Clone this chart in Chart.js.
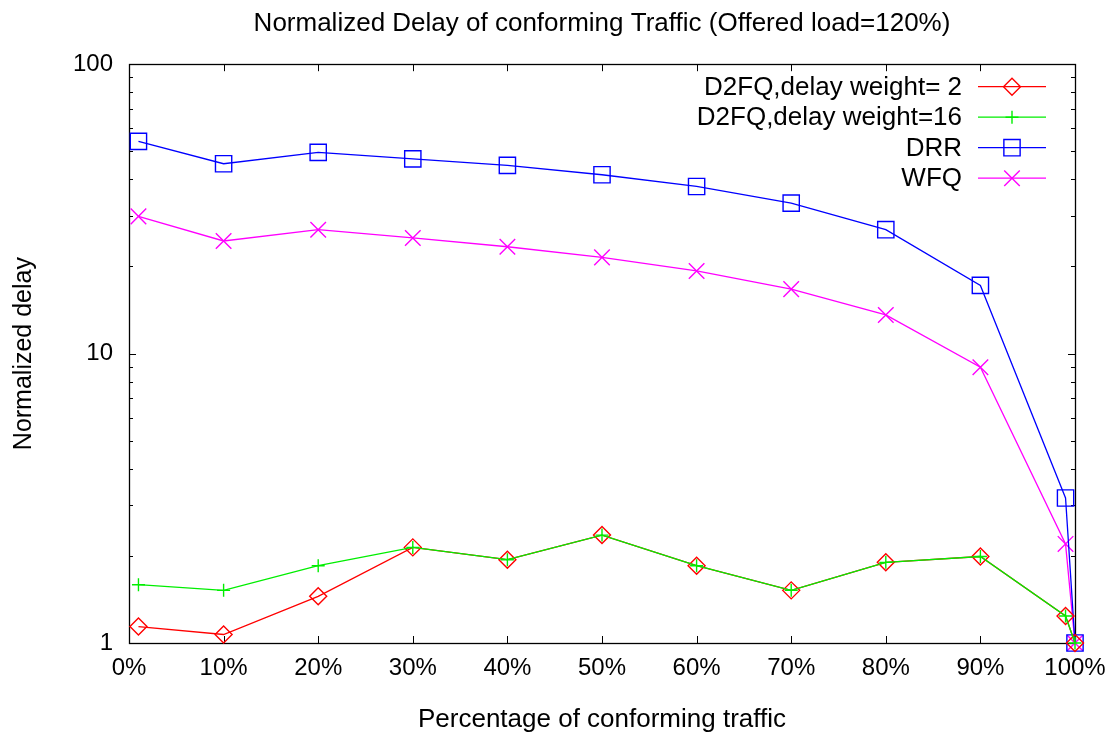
<!DOCTYPE html>
<html>
<head>
<meta charset="utf-8">
<title>Normalized Delay of conforming Traffic</title>
<script src="https://cdn.jsdelivr.net/npm/chart.js@4.4.1/dist/chart.umd.min.js"></script>
<style>
  html, body { margin: 0; padding: 0; background: #ffffff; }
  #wrap { width: 1119px; height: 735px; }
</style>
</head>
<body>
<div id="wrap"><canvas id="chart" width="1119" height="735"></canvas></div>
<script>
// Percentage of conforming traffic (x positions of the measurements)
const conformingPct = [1, 10, 20, 30, 40, 50, 60, 70, 80, 90, 99, 100];

// Normalized delay for each scheduler
const d2fqWeight2  = [1.14, 1.07, 1.45, 2.14, 1.94, 2.36, 1.85, 1.52, 1.90, 1.99, 1.24, 1.0];
const d2fqWeight16 = [1.59, 1.52, 1.85, 2.14, 1.94, 2.36, 1.85, 1.52, 1.90, 1.99, 1.24, 1.0];
const drrDelay     = [54.1, 45.3, 49.6, 47.1, 44.7, 41.5, 37.8, 33.1, 26.8, 17.2, 3.17, 1.0];
const wfqDelay     = [29.8, 24.5, 26.8, 25.1, 23.4, 21.5, 19.3, 16.7, 13.6, 8.97, 2.20, 1.0];

const seriesNames = ['D2FQ,delay weight= 2', 'D2FQ,delay weight=16', 'DRR', 'WFQ'];

// Axis ticks
const xTickValues = [0, 10, 20, 30, 40, 50, 60, 70, 80, 90, 100];
const yMajorTicks = [1, 10, 100];
const yMinorMultipliers = [2, 3, 4, 5, 6, 7, 8, 9];

const FONT = '"Liberation Sans", Arial, Helvetica, sans-serif';
Chart.defaults.font.family = FONT;
Chart.defaults.color = '#000000';

function toPoints(values) {
  return values.map((v, i) => ({ x: conformingPct[i], y: v }));
}

const styles = [
  { color: '#ff0000', pointStyle: 'rectRot',  radius: 8.5 },
  { color: '#00ee00', pointStyle: 'cross',    radius: 6.5 },
  { color: '#0000ff', pointStyle: 'rect',     radius: 11.5 },
  { color: '#ff00ff', pointStyle: 'crossRot', radius: 11 }
];
const seriesValues = [d2fqWeight2, d2fqWeight16, drrDelay, wfqDelay];
// green drawn above red, as the two D2FQ curves coincide for most points
const drawOrder = [1, 0, 2, 3];

const datasets = seriesValues.map((vals, i) => ({
  label: seriesNames[i],
  data: toPoints(vals),
  borderColor: styles[i].color,
  backgroundColor: styles[i].color,
  borderWidth: 1.3,
  pointStyle: styles[i].pointStyle,
  pointRadius: styles[i].radius,
  pointBorderWidth: 1.4,
  pointBorderColor: styles[i].color,
  pointBackgroundColor: 'rgba(0,0,0,0)',
  tension: 0,
  clip: 14,
  order: drawOrder[i]
}));

// Own marker drawing for the legend keys
function drawMarker(ctx, style, x, y, r) {
  ctx.beginPath();
  if (style === 'rect') {
    const s = Math.SQRT1_2 * r;
    ctx.rect(x - s, y - s, 2 * s, 2 * s);
  } else if (style === 'rectRot') {
    ctx.moveTo(x - r, y); ctx.lineTo(x, y - r); ctx.lineTo(x + r, y); ctx.lineTo(x, y + r); ctx.closePath();
  } else if (style === 'cross') {
    ctx.moveTo(x - r, y); ctx.lineTo(x + r, y); ctx.moveTo(x, y - r); ctx.lineTo(x, y + r);
  } else if (style === 'crossRot') {
    const s = Math.SQRT1_2 * r;
    ctx.moveTo(x - s, y - s); ctx.lineTo(x + s, y + s); ctx.moveTo(x - s, y + s); ctx.lineTo(x + s, y - s);
  }
  ctx.stroke();
}

// Frame around the plot plus inward tick marks on all four sides
const framePlugin = {
  id: 'frameTicks',
  beforeDatasetsDraw(chart) {
    const { ctx, chartArea: a, scales } = chart;
    const xs = scales.x, ys = scales.y;
    ctx.save();
    ctx.strokeStyle = '#000000';
    ctx.lineWidth = 1;
    const majorLen = 7, minorLen = 4;
    ctx.beginPath();
    xTickValues.forEach(v => {
      const px = Math.round(xs.getPixelForValue(v)) + 0.5;
      ctx.moveTo(px, a.bottom); ctx.lineTo(px, a.bottom - majorLen);
      ctx.moveTo(px, a.top); ctx.lineTo(px, a.top + majorLen);
    });
    yMajorTicks.forEach(v => {
      const py = Math.round(ys.getPixelForValue(v)) + 0.5;
      ctx.moveTo(a.left, py); ctx.lineTo(a.left + majorLen, py);
      ctx.moveTo(a.right, py); ctx.lineTo(a.right - majorLen, py);
    });
    [1, 10].forEach(decade => {
      yMinorMultipliers.forEach(m => {
        const py = Math.round(ys.getPixelForValue(decade * m)) + 0.5;
        ctx.moveTo(a.left, py); ctx.lineTo(a.left + minorLen, py);
        ctx.moveTo(a.right, py); ctx.lineTo(a.right - minorLen, py);
      });
    });
    ctx.stroke();
    ctx.lineWidth = 1.3;
    ctx.strokeRect(Math.round(a.left) + 0.5, Math.round(a.top) + 0.5,
                   Math.round(a.right - a.left), Math.round(a.bottom - a.top));
    ctx.restore();
  }
};

// Key in the upper-right corner: right-aligned names, line sample and marker
const keyPlugin = {
  id: 'keyBox',
  afterDraw(chart) {
    const { ctx, chartArea: a } = chart;
    ctx.save();
    ctx.font = '26px ' + FONT;
    ctx.textAlign = 'right';
    ctx.textBaseline = 'middle';
    const textRight = a.right - 113;
    const lineStart = a.right - 97, lineEnd = a.right - 29;
    const firstRow = a.top + 22.5, rowGap = 30.5;
    chart.data.datasets.forEach((ds, i) => {
      const y = firstRow + i * rowGap;
      ctx.fillStyle = '#000000';
      ctx.fillText(ds.label, textRight, y + 1);
      ctx.strokeStyle = ds.borderColor;
      ctx.lineWidth = 1.3;
      ctx.beginPath();
      ctx.moveTo(lineStart, y); ctx.lineTo(lineEnd, y);
      ctx.stroke();
      ctx.lineWidth = 1.4;
      drawMarker(ctx, ds.pointStyle, (lineStart + lineEnd) / 2, y, ds.pointRadius);
    });
    ctx.restore();
  }
};

new Chart(document.getElementById('chart'), {
  type: 'line',
  data: { datasets },
  options: {
    responsive: false,
    animation: false,
    devicePixelRatio: 1,
    layout: { padding: { left: 0, right: 44, top: 0, bottom: 0 } },
    plugins: {
      legend: { display: false },
      tooltip: { enabled: false },
      title: {
        display: true,
        fullSize: false,
        text: 'Normalized Delay of conforming Traffic (Offered load=120%)',
        font: { size: 26, weight: 'normal', family: FONT },
        color: '#000000',
        padding: { top: 8, bottom: 25 }
      }
    },
    scales: {
      x: {
        type: 'linear',
        min: 0,
        max: 100,
        grid: { display: false, drawTicks: false },
        border: { display: false },
        afterBuildTicks: s => { s.ticks = xTickValues.map(v => ({ value: v })); },
        afterFit: s => { s.height = 92; },
        ticks: {
          autoSkip: false,
          maxRotation: 0,
          padding: 11,
          font: { size: 24 },
          color: '#000000',
          callback: v => v + '%'
        },
        title: {
          display: true,
          text: 'Percentage of conforming traffic',
          font: { size: 26 },
          color: '#000000',
          padding: { top: 0, bottom: 0 }
        }
      },
      y: {
        type: 'logarithmic',
        min: 1,
        max: 100,
        grid: { display: false, drawTicks: false },
        border: { display: false },
        afterBuildTicks: s => { s.ticks = yMajorTicks.map(v => ({ value: v })); },
        afterFit: s => { s.width = 129; },
        ticks: {
          autoSkip: false,
          padding: 16,
          font: { size: 24 },
          color: '#000000',
          callback: v => String(v)
        },
        title: {
          display: true,
          text: 'Normalized delay',
          font: { size: 25 },
          color: '#000000',
          padding: { top: 9, bottom: 0 }
        }
      }
    }
  },
  plugins: [framePlugin, keyPlugin]
});
</script>
</body>
</html>
